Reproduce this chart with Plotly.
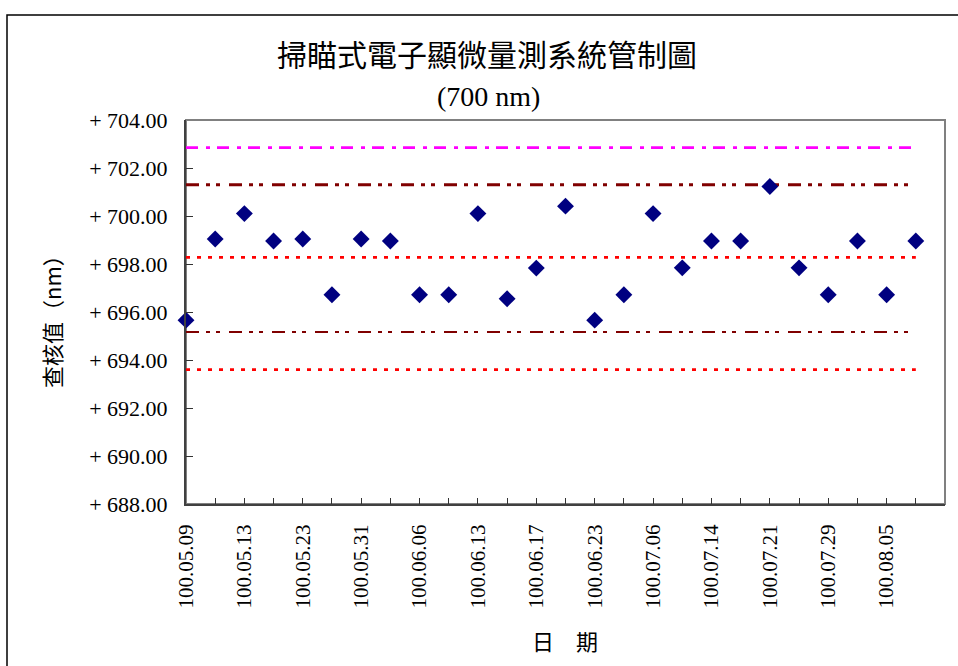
import plotly.graph_objects as go

# Measurement dates (labelled every second sample) and measured values (nm)
date_labels = ["100.05.09", "100.05.13", "100.05.23", "100.05.31", "100.06.06",
               "100.06.13", "100.06.17", "100.06.23", "100.07.06", "100.07.14",
               "100.07.21", "100.07.29", "100.08.05"]
values = [695.66, 699.04, 700.10, 698.96, 699.04, 696.72, 699.04, 698.96,
          696.72, 696.72, 700.10, 696.55, 697.83, 700.41, 695.66, 696.72,
          700.10, 697.84, 698.96, 698.96, 701.23, 697.84, 696.72, 698.96,
          696.72, 698.96]

# Control / reference limits (nm)
limit_magenta = 702.85
limit_upper_dd = 701.30
limit_upper_dot = 698.28
limit_lower_dd = 695.17
limit_lower_dot = 693.60

# Page geometry (pixels)
FIG_W, FIG_H = 958, 666
L, R, T, B = 186, 945, 120, 504
PW, PH = R - L, B - T


def px_x(px):
    return (px - L) / PW


def px_y(py):
    return (B - py) / PH


n = len(values)
xs = list(range(n))
n_slots = n  # axis runs one slot past the last sample

fig = go.Figure()

limit_styles = [
    (limit_magenta, "#FF00FF", 2.6, "12px,8px,4px,7px"),
    (limit_upper_dd, "#800000", 3.0, "13px,7px,4px,6px,4px,9px"),
    (limit_upper_dot, "#FF0000", 2.7, "4px,7px"),
    (limit_lower_dd, "#800000", 2.0, "13px,7px,4px,6px,4px,9px"),
    (limit_lower_dot, "#FF0000", 2.7, "4px,7px"),
]
for yv, col, w, dash in limit_styles:
    fig.add_trace(go.Scatter(
        x=[0, n - 1], y=[yv, yv], mode="lines",
        line=dict(color=col, width=w, dash=dash),
        hoverinfo="skip", showlegend=False, cliponaxis=False,
    ))

fig.add_trace(go.Scatter(
    x=xs, y=values, mode="markers",
    marker=dict(symbol="diamond", size=13, color="#000080",
                line=dict(width=0)),
    showlegend=False, cliponaxis=False,
))

tickvals = list(range(n_slots + 1))
ticktext = [date_labels[i // 2] if (i % 2 == 0 and i // 2 < len(date_labels)) else ""
            for i in tickvals]

serif = "Liberation Serif"
cjk = "Noto Sans CJK TC"


def label(text, x, y, family, size, angle=0):
    return dict(text=text, xref="paper", yref="paper", x=px_x(x), y=px_y(y),
                xanchor="center", yanchor="middle", showarrow=False,
                textangle=angle, font=dict(family=family, size=size, color="black"))


fig.update_layout(
    width=FIG_W, height=FIG_H,
    margin=dict(l=L, r=FIG_W - R, t=T, b=FIG_H - B, pad=0),
    paper_bgcolor="white", plot_bgcolor="white",
    showlegend=False,
    xaxis=dict(
        range=[0, n_slots], tickmode="array", tickvals=tickvals, ticktext=ticktext,
        tickangle=-90, ticks="inside", ticklen=6, tickcolor="#333333", tickwidth=1,
        showgrid=False, zeroline=False, showline=True, linecolor="#404040",
        linewidth=2, tickfont=dict(family=serif, size=21, color="black"),
        ticklabelstandoff=10,
    ),
    yaxis=dict(
        range=[688, 704], dtick=2, tick0=688, tickformat=".2f", tickprefix="+ ",
        ticks="inside", ticklen=7, tickcolor="#333333", tickwidth=1,
        showgrid=False, zeroline=False, showline=True, linecolor="#404040",
        linewidth=2, tickfont=dict(family=serif, size=22, color="black"),
        ticklabelstandoff=12,
    ),
    shapes=[
        # plot-area frame
        dict(type="rect", xref="paper", yref="paper", x0=0, x1=1, y0=0, y1=1,
             line=dict(color="#808080", width=2), layer="below"),
        # outer chart frame
        dict(type="rect", xref="paper", yref="paper",
             x0=px_x(7), x1=px_x(FIG_W + 20), y0=px_y(FIG_H + 20), y1=px_y(15),
             line=dict(color="black", width=1.5), layer="below"),
    ],
    annotations=[
        label("掃瞄式電子顯微量測系統管制圖", 487, 53, cjk, 30),
        label("(700 nm)", 488, 96, serif, 28),
        label("日　期", 565, 640, cjk, 22),
        label("查核值（nm）", 51, 316, cjk, 22, angle=-90),
    ],
)

fig.write_html("out.html")
